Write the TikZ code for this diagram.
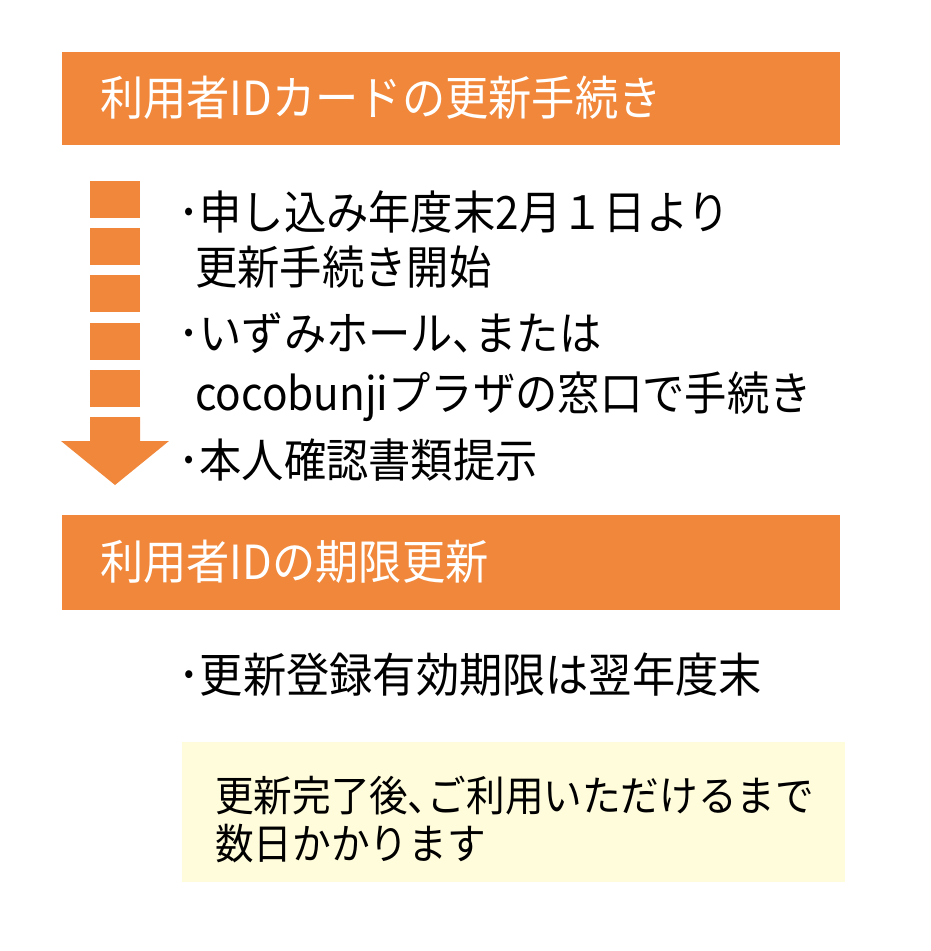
\documentclass[tikz,border=0pt]{standalone}
\usepackage{fontspec}
\setmainfont{Noto Sans CJK JP}[FakeStretch=0.92]
\definecolor{idorange}{HTML}{F0873A}
\definecolor{noteyellow}{HTML}{FFFCDC}
\tikzset{
  banner/.style={fill=idorange, draw=none},
  bantext/.style={anchor=west, inner sep=0pt, text=white,
    font=\fontsize{47}{56}\selectfont, text height=41pt, text depth=6pt},
  itemtext/.style={anchor=west, inner sep=0pt,
    font=\fontsize{46}{54}\selectfont, text height=40pt, text depth=6pt},
  notetext/.style={anchor=west, inner sep=0pt,
    font=\fontsize{42}{48}\selectfont, text height=37pt, text depth=5pt},
}
\begin{document}
\begin{tikzpicture}[x=1pt,y=-1pt]
\useasboundingbox (0,0) rectangle (930,951);
% Top banner
\fill[banner] (62,52) rectangle (840,145);
\node[bantext] (renew) at (100,98) {利用者IDカードの更新手続き};
% Dashed arrow
\foreach \i in {0,...,4}
  \fill[idorange] (90,181+47.2*\i) rectangle (140,218+47.2*\i);
\fill[idorange] (90,417) -- (140,417) -- (140,441) -- (169,441)
  -- (115,485) -- (61,441) -- (90,441) -- cycle;
% Steps
\node[itemtext] (start) at (178,212) {･申し込み年度末2月１日より};
\node[itemtext] (starttwo) at (195,267) {更新手続き開始};
\node[itemtext] (desk) at (178,333) {･いずみホール､または};
\node[itemtext] (desktwo) at (195,393) {cocobunjiプラザの窓口で手続き};
\node[itemtext] (idcheck) at (178,460) {･本人確認書類提示};
% Second banner
\fill[banner] (62,515) rectangle (840,610);
\node[bantext] (term) at (100,562) {利用者IDの期限更新};
\node[itemtext, font=\fontsize{47}{54}\selectfont] (valid) at (178,675) {･更新登録有効期限は翌年度末};
% Note box
\fill[noteyellow] (182,742) rectangle (845,882);
\node[notetext] (note) at (215,795) {更新完了後､ご利用いただけるまで};
\node[notetext] (notetwo) at (215,843) {数日かかります};
\end{tikzpicture}
\end{document}
